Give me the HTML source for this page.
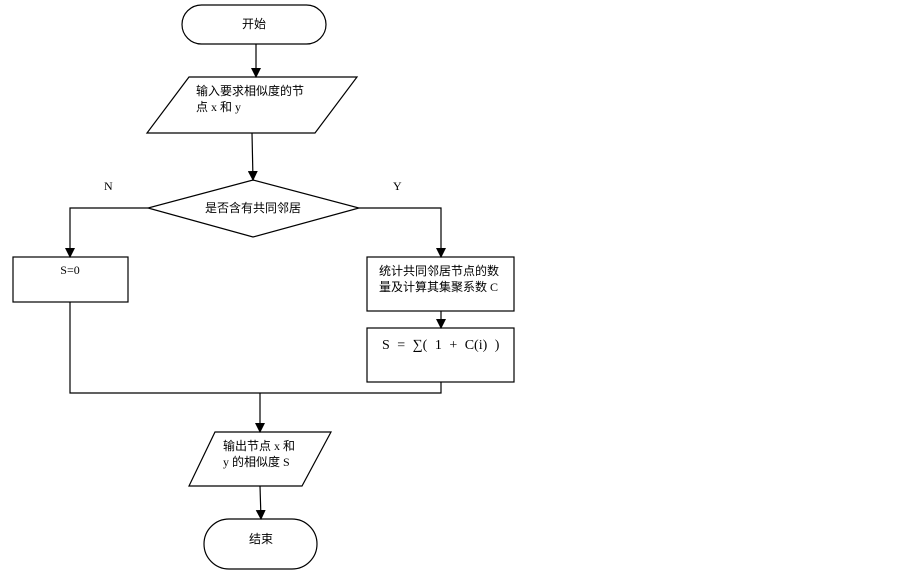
<!DOCTYPE html>
<html><head><meta charset="utf-8"><style>
body{margin:0;background:#fff;}
svg text{font-family:"Liberation Serif","Noto Sans CJK SC",serif;font-size:12px;fill:#000;}
</style></head><body>
<svg width="903" height="574" viewBox="0 0 903 574" xmlns="http://www.w3.org/2000/svg">
<defs><marker id="a" markerWidth="10" markerHeight="10" refX="9" refY="5" orient="auto" markerUnits="userSpaceOnUse"><path d="M0,0 L10,5 L0,10 z" fill="#000"/></marker></defs>
<g fill="none" stroke="#000" stroke-width="1.2">
<rect x="182" y="5" width="144" height="39" rx="19.5"/>
<polygon points="189,77 357,77 315,133 147,133"/>
<polygon points="253,180 359,208 253,237 148,208"/>
<rect x="13" y="257" width="115" height="45"/>
<rect x="367" y="257" width="147" height="54"/>
<rect x="367" y="328" width="147" height="54"/>
<polygon points="215,432 331,432 302,486 189,486"/>
<rect x="204" y="519" width="113" height="50" rx="25"/>
<line x1="256" y1="44" x2="256" y2="77" marker-end="url(#a)"/>
<line x1="252" y1="133" x2="253" y2="180" marker-end="url(#a)"/>
<polyline points="148,208 70,208 70,257" marker-end="url(#a)"/>
<polyline points="359,208 441,208 441,257" marker-end="url(#a)"/>
<line x1="441" y1="311" x2="441" y2="328" marker-end="url(#a)"/>
<polyline points="70,302 70,393 441,393 441,382"/>
<line x1="260" y1="393" x2="260" y2="432" marker-end="url(#a)"/>
<line x1="260" y1="486" x2="261" y2="519" marker-end="url(#a)"/>
</g>
<text x="254" y="28" text-anchor="middle">开始</text>
<text x="196" y="95">输入要求相似度的节</text>
<text x="196" y="111">点 x 和 y</text>
<text x="253" y="212" text-anchor="middle">是否含有共同邻居</text>
<text x="70" y="274" text-anchor="middle">S=0</text>
<text x="379" y="275">统计共同邻居节点的数</text>
<text x="379" y="291">量及计算其集聚系数 C</text>
<text x="382" y="349" style="font-size:14px;word-spacing:4px">S = ∑( 1 + C(i) )</text>
<text x="223" y="450">输出节点 x 和</text>
<text x="223" y="466">y 的相似度 S</text>
<text x="261" y="543" text-anchor="middle">结束</text>
<text x="104" y="190">N</text>
<text x="393" y="190">Y</text>
</svg>
</body></html>
